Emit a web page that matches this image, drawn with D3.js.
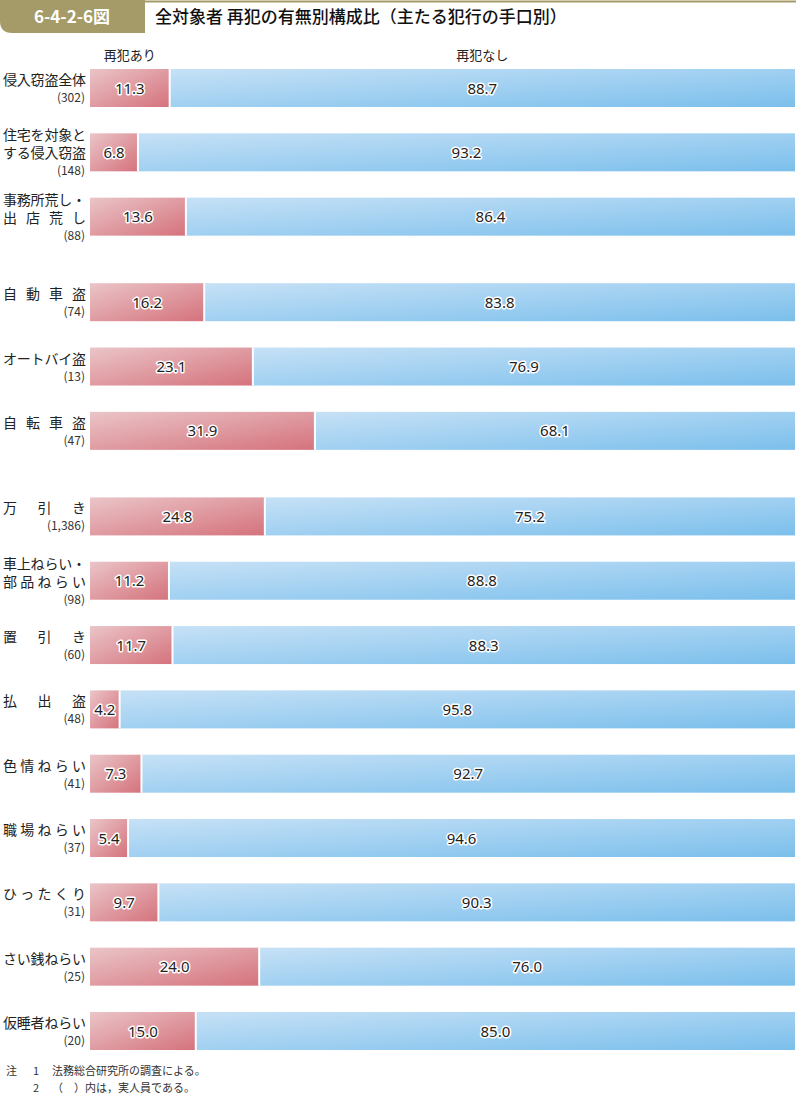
<!DOCTYPE html>
<html lang="ja">
<head>
<meta charset="UTF-8">
<title>6-4-2-6図</title>
<script src="https://d3js.org/d3.v7.min.js"></script>
<style>
  body { margin: 0; background: #fff; }
  svg { display: block; font-family: "Noto Sans CJK JP", "Noto Sans", sans-serif; }
</style>
</head>
<body>
<div id="chart"></div>
<script>
// 手口別の区分（行ごとのラベル）
const categories = [
  ["侵入窃盗全体"], ["住宅を対象と", "する侵入窃盗"], ["事務所荒し・", "出店荒し"],
  ["自動車盗"], ["オートバイ盗"], ["自転車盗"],
  ["万引き"], ["車上ねらい・", "部品ねらい"], ["置引き"], ["払出盗"],
  ["色情ねらい"], ["職場ねらい"], ["ひったくり"], ["さい銭ねらい"], ["仮睡者ねらい"]
];
const counts = ["302", "148", "88", "74", "13", "47", "1,386", "98", "60", "48", "41", "37", "31", "25", "20"];
const groups = [0, 0, 0, 1, 1, 1, 2, 2, 2, 2, 2, 2, 2, 2, 2];
const withRecid = [11.3, 6.8, 13.6, 16.2, 23.1, 31.9, 24.8, 11.2, 11.7, 4.2, 7.3, 5.4, 9.7, 24.0, 15.0];
const noRecid = [88.7, 93.2, 86.4, 83.8, 76.9, 68.1, 75.2, 88.8, 88.3, 95.8, 92.7, 94.6, 90.3, 76.0, 85.0];
const seriesNames = ["再犯あり", "再犯なし"];

const width = 796, height = 1097;
const barH = 38, groupGap = 0.33;

const svg = d3.select("#chart").append("svg")
  .attr("width", width).attr("height", height);

// グラデーション
const defs = svg.append("defs");
function grad(id, c0, c1) {
  const g = defs.append("linearGradient").attr("id", id)
    .attr("x1", 0).attr("y1", 0).attr("x2", 1).attr("y2", 1);
  g.append("stop").attr("offset", "0%").attr("stop-color", c0);
  g.append("stop").attr("offset", "100%").attr("stop-color", c1);
}
grad("gRed", "#eac5c8", "#d5727c");
grad("gBlue", "#c6e1f6", "#7bbfec");

// 見出し
svg.append("line").attr("x1", 0).attr("x2", width).attr("y1", 1.5).attr("y2", 1.5)
  .attr("stroke", "#a59b68").attr("stroke-width", 2);
svg.append("path")
  .attr("d", "M0,0 H145 V33 H12 Q0,33 0,21 Z")
  .attr("fill", "#a59b68");
svg.append("text").attr("x", 72).attr("y", 23).attr("text-anchor", "middle")
  .attr("fill", "#fff").attr("font-size", 17).attr("font-weight", 700)
  .text("6-4-2-6図");
svg.append("text").attr("x", 155).attr("y", 23)
  .attr("fill", "#111").attr("font-size", 17).attr("font-weight", 500)
  .text("全対象者 再犯の有無別構成比（主たる犯行の手口別）");

// スケール
const x = d3.scaleLinear().domain([0, 100]).range([90, 795]);
const slot = i => i + groups[i] * groupGap;
const y = d3.scaleLinear().domain([0, slot(14)]).range([69, 1012]);

const rows = categories.map((c, i) => ({
  lines: c, count: counts[i], vals: [withRecid[i], noRecid[i]], top: y(slot(i))
}));

// 凡例（列見出し）
seriesNames.forEach((name, k) => {
  const x0 = k === 0 ? 0 : withRecid[0], x1 = k === 0 ? withRecid[0] : 100;
  svg.append("text").attr("x", (x(x0) + x(x1)) / 2).attr("y", 60)
    .attr("text-anchor", "middle").attr("font-size", 13).attr("fill", "#222")
    .text(name);
});

const row = svg.selectAll("g.row").data(rows).join("g").attr("class", "row")
  .attr("transform", d => `translate(0,${d.top})`);

// 棒
row.each(function (d) {
  const g = d3.select(this);
  let acc = 0;
  d.vals.forEach((v, k) => {
    g.append("rect").attr("x", x(acc)).attr("y", 0)
      .attr("width", x(acc + v) - x(acc)).attr("height", barH)
      .attr("fill", k === 0 ? "url(#gRed)" : "url(#gBlue)");
    g.append("text").attr("x", (x(acc) + x(acc + v)) / 2).attr("y", barH / 2 + 5.5)
      .attr("text-anchor", "middle").attr("font-size", 15)
      .attr("font-family", "'Noto Sans', sans-serif")
      .attr("fill", "#222").attr("stroke", "#fff").attr("stroke-width", 3)
      .attr("paint-order", "stroke").attr("stroke-linejoin", "round")
      .text(v.toFixed(1));
    acc += v;
  });
  // 区切り線
  g.append("line").attr("x1", x(d.vals[0])).attr("x2", x(d.vals[0]))
    .attr("y1", 0).attr("y2", barH).attr("stroke", "#fff").attr("stroke-width", 2);
});

// ラベル（均等割り付け）
row.each(function (d) {
  const g = d3.select(this);
  const nLines = d.lines.length + 1;
  const blockTop = barH / 2 - ((d.lines.length) * 18 + 16) / 2;
  d.lines.forEach((line, li) => {
    const chars = Array.from(line);
    const cy = blockTop + li * 18 + 14;
    const px = d3.scalePoint().domain(d3.range(chars.length)).range([10, 79]);
    g.selectAll(null).data(chars).join("text")
      .attr("x", (c, j) => chars.length === 1 ? 79 : px(j)).attr("y", cy)
      .attr("text-anchor", "middle").attr("font-size", 14).attr("fill", "#222")
      .text(c => c);
  });
  g.append("text").attr("x", 85).attr("y", blockTop + d.lines.length * 18 + 13)
    .attr("text-anchor", "end").attr("font-size", 12).attr("fill", "#333")
    .text(`(${d.count})`);
});

// 注
const notes = [["注", "1", "法務総合研究所の調査による。"], ["", "2", "（　）内は，実人員である。"]];
notes.forEach((n, i) => {
  const yy = 1075 + i * 17;
  svg.append("text").attr("x", 6).attr("y", yy).attr("font-size", 11).attr("fill", "#333").text(n[0]);
  svg.append("text").attr("x", 33).attr("y", yy).attr("font-size", 11).attr("fill", "#333").text(n[1]);
  svg.append("text").attr("x", 52).attr("y", yy).attr("font-size", 11).attr("fill", "#333").text(n[2]);
});
</script>
</body>
</html>
